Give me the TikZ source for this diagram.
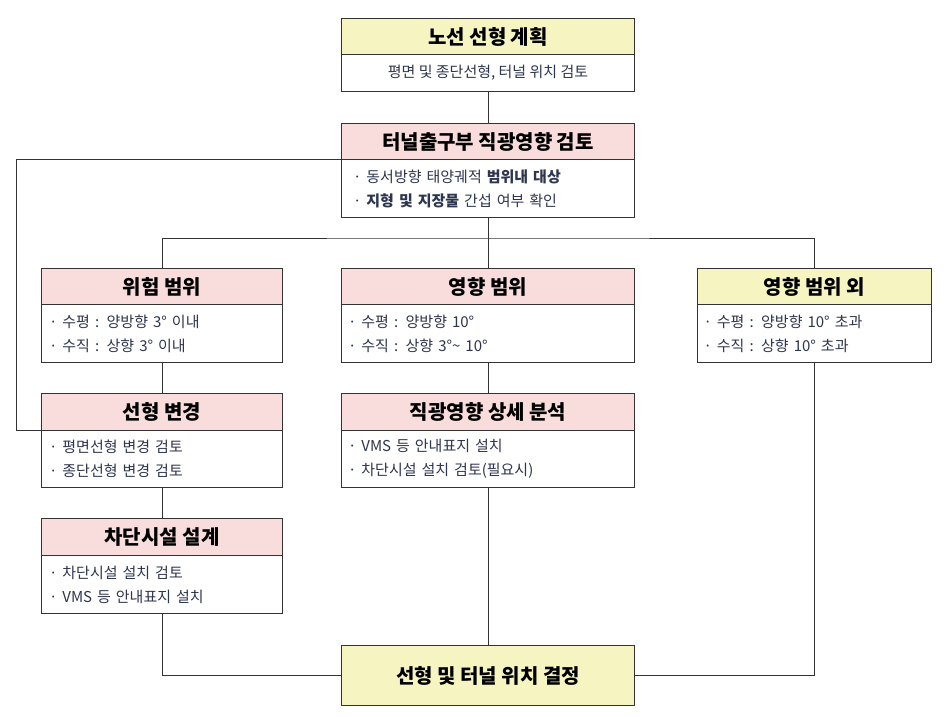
\documentclass[tikz,border=0pt]{standalone}
\usepackage{fontspec}
\setmainfont{Noto Sans CJK KR}
\usetikzlibrary{positioning}
\definecolor{headyel}{HTML}{F6F5C2}
\definecolor{headpink}{HTML}{F9DCDC}
\definecolor{bodytext}{HTML}{2E3550}
\definecolor{frame}{HTML}{333333}
\tikzset{
  head/.style={draw=frame, line width=1pt, anchor=north west, inner sep=0pt,
    font=\fontsize{20}{22}\selectfont\bfseries, text=black},
  body/.style={draw=frame, line width=1pt, anchor=north west, inner sep=0pt,
    font=\fontsize{15}{24}\selectfont, text=bodytext, align=left},
  link/.style={draw=frame, line width=1pt}
}
\begin{document}
\begin{tikzpicture}[x=1pt,y=-1pt]
  \useasboundingbox (0,0) rectangle (950,717);
  % top plan
  \node[head, fill=headyel, minimum width=293pt, minimum height=36pt] (planH) at (341,18) {노선 선형 계획};
  \node[body, fill=white, minimum width=293pt, minimum height=37pt, align=center] (planB) at (341,54) {평면 및 종단선형, 터널 위치 검토};
  % review
  \node[head, fill=headpink, minimum width=293pt, minimum height=36pt] (revH) at (341,123) {터널출구부 직광영향 검토};
  \node[body, fill=white, minimum width=293pt, minimum height=58pt, text width=270pt] (revB) at (341,159) {· 동서방향 태양궤적 \textbf{범위내 대상}\\ · \textbf{지형 및 지장물} 간섭 여부 확인};
  % three ranges
  \node[head, fill=headpink, minimum width=241pt, minimum height=36pt] (dangH) at (41,268) {위험 범위};
  \node[body, fill=white, minimum width=241pt, minimum height=58pt, text width=226pt] (dangB) at (41,304) {· 수평 : 양방향 3° 이내\\ · 수직 : 상향 3° 이내};
  \node[head, fill=headpink, minimum width=293pt, minimum height=36pt] (affH) at (341,268) {영향 범위};
  \node[body, fill=white, minimum width=293pt, minimum height=58pt, text width=280pt] (affB) at (341,304) {· 수평 : 양방향 10°\\ · 수직 : 상향 3°\textasciitilde{} 10°};
  \node[head, fill=headyel, minimum width=234pt, minimum height=36pt] (outH) at (697,268) {영향 범위 외};
  \node[body, fill=white, minimum width=234pt, minimum height=58pt, text width=222pt] (outB) at (697,304) {· 수평 : 양방향 10° 초과\\ · 수직 : 상향 10° 초과};
  % second row
  \node[head, fill=headpink, minimum width=241pt, minimum height=37pt] (chgH) at (41,393) {선형 변경};
  \node[body, fill=white, minimum width=241pt, minimum height=57pt, text width=226pt] (chgB) at (41,430) {· 평면선형 변경 검토\\ · 종단선형 변경 검토};
  \node[head, fill=headpink, minimum width=293pt, minimum height=37pt] (detH) at (341,393) {직광영향 상세 분석};
  \node[body, fill=white, minimum width=293pt, minimum height=57pt, text width=280pt] (detB) at (341,430) {· VMS 등 안내표지 설치\\ · 차단시설 설치 검토(필요시)};
  \node[head, fill=headpink, minimum width=241pt, minimum height=37pt] (blkH) at (41,518) {차단시설 설계};
  \node[body, fill=white, minimum width=241pt, minimum height=58pt, text width=226pt] (blkB) at (41,555) {· 차단시설 설치 검토\\ · VMS 등 안내표지 설치};
  % final
  \node[head, fill=headyel, minimum width=293pt, minimum height=60pt] (endH) at (341,645) {선형 및 터널 위치 결정};
  % connectors
  \coordinate (split) at (488,238);
  \coordinate (loopL) at (16,159);
  \draw[link] (planB.south) -- (revH.north);
  \draw[link] (revB.south) -- (split);
  \draw[link] (dangH.north) |- (split) -| (outH.north);
  \draw[link] (split) -- (affH.north);
  \draw[link] (revB.north west) -- (loopL) |- (chgB.north west);
  \draw[link] (dangB.south) -- (chgH.north);
  \draw[link] (affB.south) -- (detH.north);
  \draw[link] (chgB.south) -- (blkH.north);
  \draw[link] (detB.south) -- (endH.north);
  \draw[link] (blkB.south) |- (endH.west);
  \draw[link] (outB.south) |- (endH.east);
\end{tikzpicture}
\end{document}
